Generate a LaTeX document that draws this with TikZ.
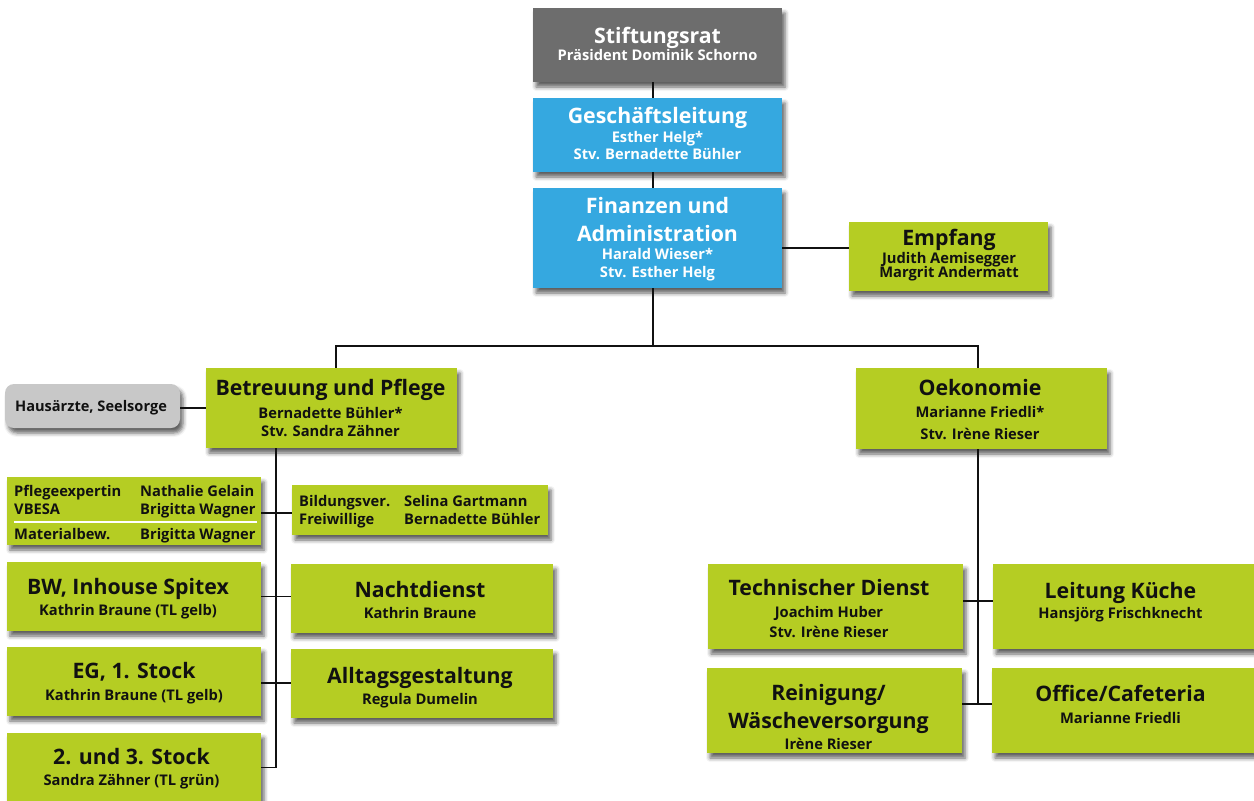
\documentclass[tikz,border=0pt]{standalone}
\usepackage{fontspec}
\setmainfont{Open Sans}
\usetikzlibrary{shadows.blur}
\definecolor{cgray}{HTML}{6D6D6D}
\definecolor{cblue}{HTML}{35A8E0}
\definecolor{cgreen}{HTML}{B5CD23}
\definecolor{clight}{HTML}{C8C8C8}
\definecolor{cink}{HTML}{111111}
\newcommand\ftitle{\fontsize{21.3}{24}\selectfont\bfseries}
\newcommand\fsub{\fontsize{14.7}{17}\selectfont\bfseries}
\newcommand\fsmall{\fontsize{14.6}{17}\selectfont\bfseries}
\tikzset{
 box/.style={inner sep=0pt, draw=none, blur shadow={shadow xshift=3pt, shadow yshift=-5pt, shadow blur radius=4pt, shadow opacity=62}},
 gbox/.style={box, fill=cgreen},
 bbox/.style={box, fill=cblue},
 dbox/.style={box, fill=cgray},
 lbox/.style={box, fill=clight, rounded corners=9pt},
 T/.style={inner sep=0pt, text height=15.2pt, text depth=0pt, font=\ftitle, text=cink},
 S/.style={inner sep=0pt, text height=10.5pt, text depth=0pt, font=\fsub, text=cink},
 W/.style={text=white},
 ln/.style={line width=1.6pt, draw=cink},
 sepline/.style={line width=1.4pt, draw=white}
}
\begin{document}
\begin{tikzpicture}[x=1pt,y=-1pt]
\useasboundingbox (0,0) rectangle (1254,801);
% boxes
\node[dbox, minimum width=249pt, minimum height=74pt] (sr) at (657.5,45) {};
\node[bbox, minimum width=249pt, minimum height=74pt] (gl) at (657.5,135) {};
\node[bbox, minimum width=249pt, minimum height=100pt] (fa) at (657.5,238) {};
\node[gbox, minimum width=199pt, minimum height=69pt] (em) at (948.5,256.5) {};
\node[gbox, minimum width=251pt, minimum height=80pt] (bp) at (331.5,408) {};
\node[lbox, minimum width=175pt, minimum height=44pt] (ha) at (92.5,406) {};
\node[gbox, minimum width=254pt, minimum height=68pt] (pe) at (134,511) {};
\node[gbox, minimum width=256pt, minimum height=50pt] (bv) at (420,510) {};
\node[gbox, minimum width=254pt, minimum height=69pt] (bw) at (134,596.5) {};
\node[gbox, minimum width=262pt, minimum height=69pt] (nd) at (422,598.5) {};
\node[gbox, minimum width=254pt, minimum height=69pt] (eg) at (134,681.5) {};
\node[gbox, minimum width=262pt, minimum height=69pt] (ag) at (422,683.5) {};
\node[gbox, minimum width=254pt, minimum height=69pt] (st) at (134,767.5) {};
\node[gbox, minimum width=251pt, minimum height=81pt] (oe) at (981.5,408.5) {};
\node[gbox, minimum width=255pt, minimum height=85pt] (td) at (835.5,606.5) {};
\node[gbox, minimum width=261pt, minimum height=85pt] (lk) at (1123.5,606.5) {};
\node[gbox, minimum width=255pt, minimum height=85pt] (rw) at (834.5,710.5) {};
\node[gbox, minimum width=262pt, minimum height=85pt] (oc) at (1123,710.5) {};
% connector helpers
\coordinate (cx) at (653,346);
\coordinate (jl) at (336,346);
\coordinate (jr) at (978,346);
\coordinate (ls) at (276,0);
\coordinate (ey) at (0,248);
% connectors
\draw[ln] (sr.south -| cx) -- (gl.north -| cx);
\draw[ln] (gl.south -| cx) -- (fa.north -| cx);
\draw[ln] (fa.south -| cx) -- (cx);
\draw[ln] (bp.north -| jl) -- (jl) -- (jr) -- (oe.north -| jr);
\draw[ln] (fa.east |- ey) -- (em.west |- ey);
\draw[ln] (ha.east |- bp.west) -- (bp.west);
\draw[ln] (bp.south -| ls) -- (ls |- st.east) -- (st.east);
\draw[ln] ([yshift=-2pt]pe.east) -- ([yshift=-2pt]pe.east -| bv.west);
\draw[ln] (bw.east) -- (bw.east -| nd.west);
\draw[ln] ([yshift=-1.5pt]eg.east) -- ([yshift=-1.5pt]eg.east -| ag.west);
\draw[ln] (oe.south -| jr) -- ([yshift=6.5pt]rw.east -| jr);
\draw[ln] ([yshift=5.5pt]td.east) -- ([yshift=5.5pt]td.east -| lk.west);
\draw[ln] ([yshift=6.5pt]rw.east) -- ([yshift=6.5pt]rw.east -| oc.west);
% texts
\node[T,W] (srT) at (657.5,36) {Stiftungsrat};
\node[S,W] (srS) at (657.5,55) {Präsident Dominik Schorno};
\node[T,W] (glT) at (657.5,116) {Geschäftsleitung};
\node[S,W] (glS1) at (657.5,137) {Esther Helg*};
\node[S,W] (glS2) at (657.5,154) {Stv. Bernadette Bühler};
\node[T,W] (faT1) at (657.5,206) {Finanzen und};
\node[T,W] (faT2) at (657.5,234) {Administration};
\node[S,W] (faS1) at (657.5,254) {Harald Wieser*};
\node[S,W] (faS2) at (657.5,272) {Stv. Esther Helg};
\node[T] (emT) at (949,238) {Empfang};
\node[S] (emS1) at (949,258) {Judith Aemisegger};
\node[S] (emS2) at (949,272) {Margrit Andermatt};
\node[T] (bpT) at (330.5,388) {Betreuung und Pflege};
\node[S] (bpS1) at (330.5,413) {Bernadette Bühler*};
\node[S] (bpS2) at (330.5,431) {Stv. Sandra Zähner};
\node[S, font=\fsmall] (haT) at (91,406) {Hausärzte, Seelsorge};
\node[S, anchor=west] (pe1a) at (14,491) {Pflegeexpertin};
\node[S, anchor=west] (pe1b) at (140,491) {Nathalie Gelain};
\node[S, anchor=west] (pe2a) at (14,509) {VBESA};
\node[S, anchor=west] (pe2b) at (140,509) {Brigitta Wagner};
\draw[sepline] (14,522) -- (257,522);
\node[S, anchor=west] (pe3a) at (14,534) {Materialbew.};
\node[S, anchor=west] (pe3b) at (140,534) {Brigitta Wagner};
\node[S, anchor=west] (bv1a) at (299,501) {Bildungsver.};
\node[S, anchor=west] (bv1b) at (404,501) {Selina Gartmann};
\node[S, anchor=west] (bv2a) at (299,519) {Freiwillige};
\node[S, anchor=west] (bv2b) at (404,519) {Bernadette Bühler};
\node[T] (bwT) at (128,587) {BW, Inhouse Spitex};
\node[S] (bwS) at (128,610) {Kathrin Braune (TL gelb)};
\node[T] (ndT) at (420,590) {Nachtdienst};
\node[S] (ndS) at (420,613) {Kathrin Braune};
\node[T] (egT) at (134,671) {EG, 1. Stock};
\node[S] (egS) at (134,695) {Kathrin Braune (TL gelb)};
\node[T] (agT) at (420,676) {Alltagsgestaltung};
\node[S] (agS) at (420,699) {Regula Dumelin};
\node[T] (stT) at (131.5,757) {2. und 3. Stock};
\node[S] (stS) at (131.5,780) {Sandra Zähner (TL grün)};
\node[T] (oeT) at (980,388) {Oekonomie};
\node[S] (oeS1) at (980,412) {Marianne Friedli*};
\node[S] (oeS2) at (980,434) {Stv. Irène Rieser};
\node[T] (tdT) at (829,588) {Technischer Dienst};
\node[S] (tdS1) at (829,612) {Joachim Huber};
\node[S] (tdS2) at (829,632) {Stv. Irène Rieser};
\node[T] (lkT) at (1120.5,591) {Leitung Küche};
\node[S] (lkS) at (1120.5,613) {Hansjörg Frischknecht};
\node[T] (rwT1) at (828.5,693) {Reinigung/};
\node[T] (rwT2) at (828.5,721) {Wäscheversorgung};
\node[S] (rwS) at (828.5,744) {Irène Rieser};
\node[T] (ocT) at (1120.5,694) {Office/Cafeteria};
\node[S] (ocS) at (1120.5,718) {Marianne Friedli};
\end{tikzpicture}
\end{document}
